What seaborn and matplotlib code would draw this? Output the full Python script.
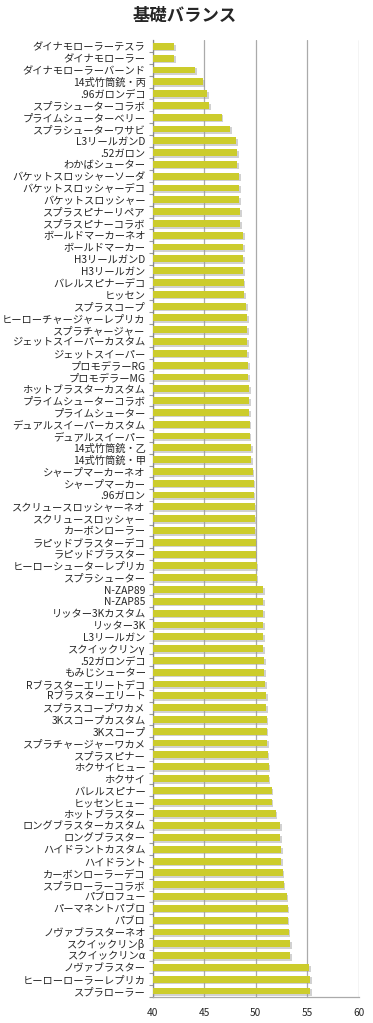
import matplotlib
matplotlib.use("Agg")
import matplotlib.pyplot as plt
import matplotlib.patheffects as pe
import seaborn as sns
import numpy as np
import pandas as pd

weapons = [
    "ダイナモローラーテスラ", "ダイナモローラー", "ダイナモローラーバーンド", "14式竹筒銃・丙",
    ".96ガロンデコ", "スプラシューターコラボ", "プライムシューターベリー", "スプラシューターワサビ",
    "L3リールガンD", ".52ガロン", "わかばシューター", "バケットスロッシャーソーダ",
    "バケットスロッシャーデコ", "バケットスロッシャー", "スプラスピナーリペア", "スプラスピナーコラボ",
    "ボールドマーカーネオ", "ボールドマーカー", "H3リールガンD", "H3リールガン",
    "バレルスピナーデコ", "ヒッセン", "スプラスコープ", "ヒーローチャージャーレプリカ",
    "スプラチャージャー", "ジェットスイーパーカスタム", "ジェットスイーパー", "プロモデラーRG",
    "プロモデラーMG", "ホットブラスターカスタム", "プライムシューターコラボ", "プライムシューター",
    "デュアルスイーパーカスタム", "デュアルスイーパー", "14式竹筒銃・乙", "14式竹筒銃・甲",
    "シャープマーカーネオ", "シャープマーカー", ".96ガロン", "スクリュースロッシャーネオ",
    "スクリュースロッシャー", "カーボンローラー", "ラピッドブラスターデコ", "ラピッドブラスター",
    "ヒーローシューターレプリカ", "スプラシューター", "N-ZAP89", "N-ZAP85",
    "リッター3Kカスタム", "リッター3K", "L3リールガン", "スクイックリンγ",
    ".52ガロンデコ", "もみじシューター", "Rブラスターエリートデコ", "Rブラスターエリート",
    "スプラスコープワカメ", "3Kスコープカスタム", "3Kスコープ", "スプラチャージャーワカメ",
    "スプラスピナー", "ホクサイヒュー", "ホクサイ", "バレルスピナー",
    "ヒッセンヒュー", "ホットブラスター", "ロングブラスターカスタム", "ロングブラスター",
    "ハイドラントカスタム", "ハイドラント", "カーボンローラーデコ", "スプラローラーコラボ",
    "パブロフュー", "パーマネントパブロ", "パブロ", "ノヴァブラスターネオ",
    "スクイックリンβ", "スクイックリンα", "ノヴァブラスター", "ヒーローローラーレプリカ",
    "スプラローラー",
]
balance = [
    42.1, 42.1, 44.1, 44.9,
    45.3, 45.5, 46.7, 47.5,
    48.1, 48.2, 48.2, 48.4,
    48.4, 48.4, 48.5, 48.5,
    48.8, 48.8, 48.8, 48.8,
    48.85, 48.9, 49.05, 49.15,
    49.15, 49.2, 49.2, 49.3,
    49.3, 49.35, 49.35, 49.35,
    49.4, 49.4, 49.55, 49.55,
    49.7, 49.8, 49.8, 49.9,
    49.9, 49.9, 50.0, 50.0,
    50.1, 50.1, 50.7, 50.7,
    50.7, 50.7, 50.7, 50.75,
    50.85, 50.85, 50.95, 51.0,
    51.0, 51.05, 51.05, 51.1,
    51.15, 51.25, 51.25, 51.55,
    51.55, 51.95, 52.35, 52.35,
    52.5, 52.5, 52.6, 52.7,
    53.0, 53.1, 53.1, 53.2,
    53.35, 53.35, 55.2, 55.3,
    55.3,
]
x_ticks = [40, 45, 50, 55, 60]
title = "基礎バランス"

df = pd.DataFrame({"weapon": weapons, "balance": balance})

sns.set_theme(style="white")
plt.rcParams["font.family"] = ["Noto Sans CJK JP", "DejaVu Sans"]

fig = plt.figure(figsize=(3.73, 10.23), dpi=100)
ax = fig.add_axes([0.409, 0.0255, 0.553, 0.935])

sns.barplot(data=df, y="weapon", x="balance", orient="h", color="#cccc2c",
            saturation=1, width=0.58, ax=ax, zorder=3)
for p in ax.patches:
    p.set_edgecolor("none")
    p.set_path_effects([pe.SimplePatchShadow(offset=(1.2, -1.2), shadow_rgbFace="#999999", alpha=0.45),
                        pe.Normal()])

ax.set_xlim(40, 60)
ax.set_ylim(len(weapons) - 0.5, -0.5)
ax.set_xticks(x_ticks)
ax.set_xticklabels([str(t) for t in x_ticks], fontsize=7.3)
ax.set_xlabel("")
ax.set_ylabel("")
ax.tick_params(axis="y", labelsize=7.4, length=0, pad=5)
ax.tick_params(axis="x", length=3, width=0.8, color="#999999", pad=5, direction="out")
ax.set_yticks(np.arange(len(weapons)) + 0.5, minor=True)
ax.tick_params(axis="y", which="minor", length=3, width=0.8, color="#999999", left=True)
ax.xaxis.grid(True, color="#aaaaaa", linewidth=0.9, zorder=0)
ax.yaxis.grid(False)
ax.set_axisbelow(True)
for s in ["top", "right"]:
    ax.spines[s].set_visible(False)
ax.spines["left"].set_color("#888888")
ax.spines["left"].set_linewidth(0.9)
ax.spines["bottom"].set_color("#aaaaaa")
ax.spines["bottom"].set_linewidth(0.9)

fig.text(0.495, 0.985, title, ha="center", va="center", fontsize=12.5, fontweight="bold")

fig.savefig("out.png", dpi=100)
